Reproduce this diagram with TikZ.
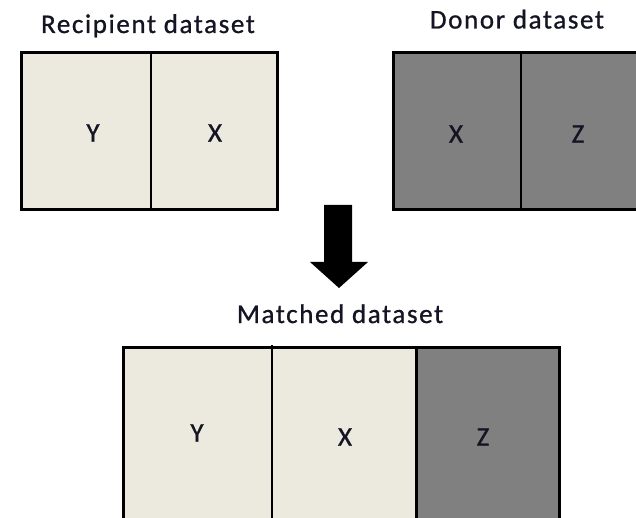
\documentclass[tikz,border=0pt]{standalone}
\usepackage{fontspec}
\newfontfamily\lblfont[LetterSpace=6,FakeBold=0.9]{Carlito}
\definecolor{lightcell}{RGB}{236,233,223}
\definecolor{darkcell}{RGB}{128,128,128}
\definecolor{txt}{RGB}{20,20,35}
\begin{document}
\begin{tikzpicture}[x=1pt,y=-1pt,
  lbl/.style={font=\lblfont\fontsize{27}{32}\selectfont, text=txt, inner sep=0pt},
  title/.style={lbl, anchor=base},
  outer/.style={draw=black, line width=3pt},
  thin/.style={draw=black, line width=1.5pt},
  thick/.style={draw=black, line width=3pt}]
\useasboundingbox (0,0) rectangle (636,518);
\begin{scope}
\clip (0,0) rectangle (636,518);
% Recipient dataset
\fill[lightcell] (21,53) rectangle (277,210);
\draw[thin] (151,53) -- (151,210);
\draw[outer] (21,53) rectangle (277,210);
\node[title] (trec) at (148,33) {Recipient dataset};
\node[lbl] (ry) at (93,133) {Y};
\node[lbl] (rx) at (215,133) {X};
% Donor dataset
\fill[darkcell] (393,53) rectangle (642,210);
\draw[line width=2pt] (521,53) -- (521,210);
\draw[outer] (393,53) rectangle (642,210);
\node[title] (tdon) at (517,28.5) {Donor dataset};
\node[lbl] (dx) at (456,134) {X};
\node[lbl] (dz) at (578,134) {Z};
% Arrow
\fill[black] (324,205) -- (352,205) -- (352,262) -- (368,262) -- (339,288)
  -- (310,262) -- (324,262) -- cycle;
% Matched dataset
\fill[lightcell] (123,347) rectangle (416,530);
\fill[darkcell] (416,347) rectangle (559,530);
\draw[thin] (272,345) -- (272,530);
\draw[thick] (416,347) -- (416,530);
\draw[outer] (123,530) -- (123,347) -- (559,347) -- (559,530);
\node[title] (tmat) at (340,323) {Matched dataset};
\node[lbl] (my) at (197,433) {Y};
\node[lbl] (mx) at (345,437) {X};
\node[lbl] (mz) at (483,437) {Z};
\end{scope}
\end{tikzpicture}
\end{document}
